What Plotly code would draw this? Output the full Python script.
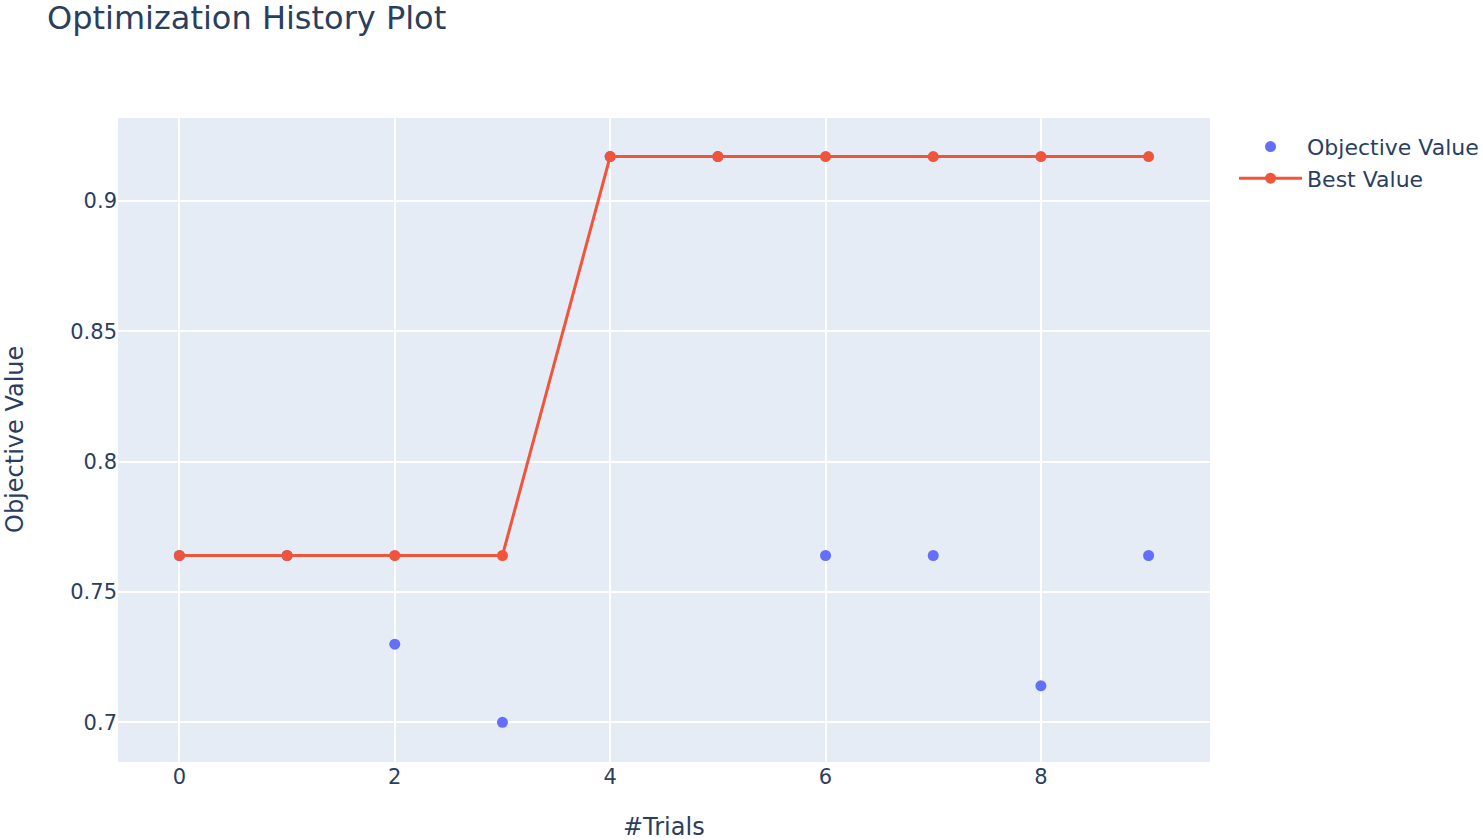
import plotly.graph_objects as go

trials = [0, 1, 2, 3, 4, 5, 6, 7, 8, 9]
objective_values = [0.764, 0.764, 0.730, 0.700, 0.917, 0.917, 0.764, 0.764, 0.714, 0.764]
best_values = [0.764, 0.764, 0.764, 0.764, 0.917, 0.917, 0.917, 0.917, 0.917, 0.917]

FONT = "DejaVu Sans, Verdana, sans-serif"

fig = go.Figure()
fig.add_trace(go.Scatter(x=trials, y=objective_values, mode="markers", name="Objective Value",
                         marker=dict(color="#636efa", size=11)))
fig.add_trace(go.Scatter(x=trials, y=best_values, mode="lines+markers", name="Best Value",
                         marker=dict(color="#EF553B", size=11), line=dict(color="#EF553B", width=3)))

fig.update_layout(
    width=1483, height=840,
    template="plotly",
    margin=dict(l=118, r=273, t=118, b=78, autoexpand=False),
    title=dict(text="Optimization History Plot", x=47/1483, xanchor="left",
               y=1-18/840, yanchor="middle", yref="container",
               font=dict(size=32, color="#2a3f5f", family=FONT)),
    font=dict(family=FONT, size=21, color="#2a3f5f"),
    legend=dict(x=1.022, y=0.988, xanchor="left", yanchor="top", itemwidth=63,
                font=dict(size=22, family=FONT)),
    xaxis=dict(range=[-0.57, 9.57], dtick=2, gridwidth=2, tickfont=dict(size=21, family=FONT)),
    yaxis=dict(range=[0.6848, 0.9318], dtick=0.05, gridwidth=2, tickfont=dict(size=21, family=FONT)),
    annotations=[
        dict(text="#Trials", xref="paper", yref="paper", x=0.5, y=-0.1005,
             xanchor="center", yanchor="middle", showarrow=False,
             font=dict(size=24, family=FONT, color="#2a3f5f")),
        dict(text="Objective Value", xref="paper", yref="paper", x=(15 - 118) / 1092, y=0.5,
             xanchor="center", yanchor="middle", textangle=-90, showarrow=False,
             font=dict(size=24, family=FONT, color="#2a3f5f")),
    ],
)

fig.write_html("out.html", config={"displayModeBar": False},
               post_script="document.body.style.margin='0';")
